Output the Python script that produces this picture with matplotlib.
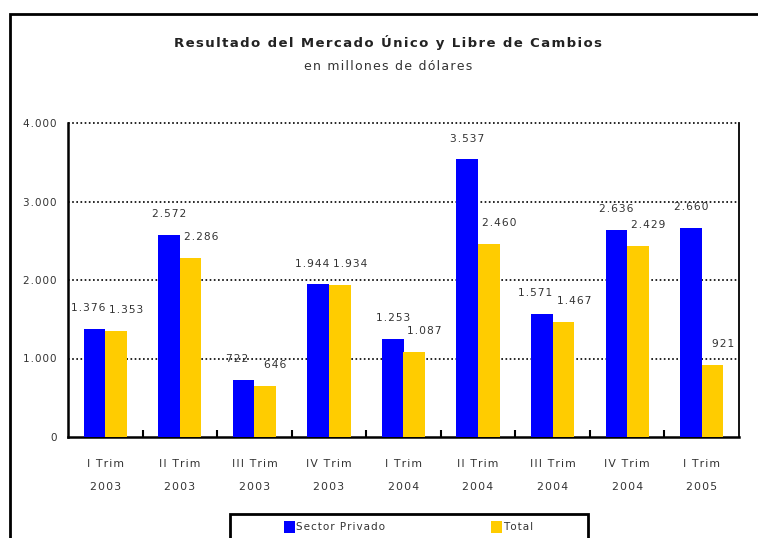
import matplotlib.pyplot as plt
import matplotlib.patches as patches
import numpy as np

plt.rcParams['font.family'] = ['DejaVu Sans']

trimestres = ['I Trim', 'II Trim', 'III Trim', 'IV Trim', 'I Trim',
              'II Trim', 'III Trim', 'IV Trim', 'I Trim']
anios = ['2003', '2003', '2003', '2003', '2004', '2004', '2004', '2004', '2005']
sector_privado = [1376, 2572, 722, 1944, 1253, 3537, 1571, 2636, 2660]
total = [1353, 2286, 646, 1934, 1087, 2460, 1467, 2429, 921]
y_ticks = [0, 1000, 2000, 3000, 4000]

AZUL = '#0000FF'
AMARILLO = '#FFCC00'
GRIS = '#333333'


def sp(s):
    # espaciado entre letras (hair space)
    return '\u200a'.join(s)


def miles(v):
    return f'{v:,}'.replace(',', '.')


fig = plt.figure(figsize=(7.58, 5.38), dpi=100)
ax = fig.add_axes([68 / 758, 1 - 437 / 538, (739 - 68) / 758, (437 - 123) / 538])

x = np.arange(len(trimestres))
w = 0.29
b1 = ax.bar(x - w / 2, sector_privado, w, color=AZUL, label='Sector Privado', zorder=3)
b2 = ax.bar(x + w / 2, total, w, color=AMARILLO, label='Total', zorder=3)

for xi, v, t in zip(x, sector_privado, total):
    # si las etiquetas quedan a la misma altura, correr la azul a la izquierda
    dx = -4.5 if abs(v - t) < 150 else 0
    ax.annotate(sp(miles(v)), (xi - w / 2, v), xytext=(dx, 15), textcoords='offset points',
                ha='center', va='center', fontsize=7.7, color=GRIS)
for xi, v in zip(x, total):
    ax.annotate(sp(miles(v)), (xi + w / 2, v), xytext=(7.5, 15), textcoords='offset points',
                ha='center', va='center', fontsize=7.7, color=GRIS)

ax.set_xlim(-0.5, len(trimestres) - 0.5)
ax.set_ylim(0, 4000)
ax.set_yticks(y_ticks)
ax.set_yticklabels([sp(miles(v)) for v in y_ticks], fontsize=7.5, color=GRIS)
ax.tick_params(axis='y', length=0, pad=8)

ax.set_xticks(x)
ax.set_xticklabels([sp(t) + '\n' + sp(a) for t, a in zip(trimestres, anios)],
                   fontsize=7.8, color=GRIS, linespacing=2.55)
ax.set_xticks(np.arange(0.5, len(trimestres) - 0.5), minor=True)
ax.tick_params(axis='x', which='major', length=0, pad=16)
ax.tick_params(axis='x', which='minor', direction='in', length=5, width=1.5)

for v in y_ticks[1:]:
    ax.axhline(v, color='black', linestyle=(0, (1, 1.5)), linewidth=1.2, zorder=1, clip_on=False)

ax.spines['top'].set_visible(False)
for s in ['left', 'bottom']:
    ax.spines[s].set_linewidth(1.8)
ax.spines['right'].set_linewidth(1.3)

fig.text(388 / 758, 1 - 42 / 538, sp('Resultado del Mercado Único y Libre de Cambios'),
         ha='center', va='center', fontsize=9.5, fontweight='bold', color='#222222')
fig.text(388 / 758, 1 - 67 / 538, sp('en millones de dólares'),
         ha='center', va='center', fontsize=9, color=GRIS)

# marco exterior
fig.patches.append(patches.Rectangle((10 / 758, -0.1), 1.2, 1.1 - 14 / 538, transform=fig.transFigure,
                                     fill=False, edgecolor='black', linewidth=2))
# caja de leyenda
fig.patches.append(patches.Rectangle((230 / 758, -0.1), (588 - 230) / 758, 0.1 + 1 - 514 / 538,
                                     transform=fig.transFigure, fill=False, edgecolor='black',
                                     linewidth=2))
leg = fig.legend(handles=[b1, b2], labels=[sp('Sector Privado'), sp('Total')],
                 loc='center left', bbox_to_anchor=(284 / 758, 1 - 527 / 538), ncol=2,
                 frameon=False, fontsize=7.5, handlelength=1.1, handleheight=1.3,
                 handletextpad=0.1, columnspacing=10.1, borderpad=0, borderaxespad=0)
for t in leg.get_texts():
    t.set_color(GRIS)

fig.savefig('out.png', dpi=100)
